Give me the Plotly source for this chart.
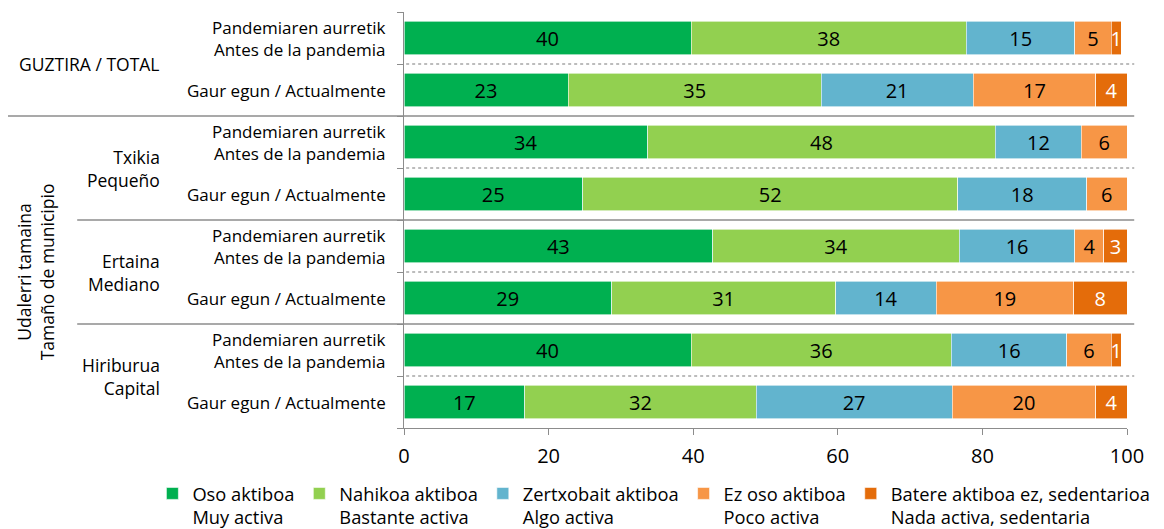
import plotly.graph_objects as go

# ---- data (top row first) ----
row_labels = [
    "Pandemiaren aurretik<br>Antes de la pandemia", "Gaur egun / Actualmente",
    "Pandemiaren aurretik<br>Antes de la pandemia", "Gaur egun / Actualmente",
    "Pandemiaren aurretik<br>Antes de la pandemia", "Gaur egun / Actualmente",
    "Pandemiaren aurretik<br>Antes de la pandemia", "Gaur egun / Actualmente",
]
group_labels = ["GUZTIRA / TOTAL", "Txikia<br>Pequeño", "Ertaina<br>Mediano", "Hiriburua<br>Capital"]
side_title = "Udalerri tamaina<br>Tamaño de municipio"

series_names = [
    "Oso aktiboa<br>Muy activa",
    "Nahikoa aktiboa<br>Bastante activa",
    "Zertxobait aktiboa<br>Algo activa",
    "Ez oso aktiboa<br>Poco activa",
    "Batere aktiboa ez, sedentarioa<br>Nada activa, sedentaria",
]
oso = [39.7, 22.7, 33.7, 24.7, 42.7, 28.7, 39.7, 16.7]
nahikoa = [38.1, 35.0, 48.1, 51.9, 34.1, 31.0, 36.0, 32.0]
zertxobait = [15.0, 21.0, 11.9, 17.8, 16.0, 13.9, 16.0, 27.1]
ez_oso = [5.0, 17.0, 6.3, 5.6, 4.0, 19.0, 6.1, 19.9]
batere = [1.4, 4.3, 0.0, 0.0, 3.2, 7.4, 1.4, 4.3]

oso_lbl = ["40", "23", "34", "25", "43", "29", "40", "17"]
nahikoa_lbl = ["38", "35", "48", "52", "34", "31", "36", "32"]
zertxobait_lbl = ["15", "21", "12", "18", "16", "14", "16", "27"]
ez_oso_lbl = ["5", "17", "6", "6", "4", "19", "6", "20"]
batere_lbl = ["1", "4", "", "", "3", "8", "1", "4"]

x_ticks = [0, 20, 40, 60, 80, 100]

colors = ["#00B050", "#92D050", "#62B4CE", "#F79646", "#E46C0A"]
text_colors = ["black", "black", "black", "black", "white"]

FONT = "Open Sans"
rows = list(range(len(row_labels)))

fig = go.Figure()
for name, vals, lbls, col, tcol in zip(
    series_names,
    [oso, nahikoa, zertxobait, ez_oso, batere],
    [oso_lbl, nahikoa_lbl, zertxobait_lbl, ez_oso_lbl, batere_lbl],
    colors, text_colors,
):
    fig.add_trace(go.Bar(
        y=rows, x=vals, orientation="h", name=name,
        marker=dict(color=col, line=dict(color="white", width=0.6)),
        text=lbls, textposition="inside", insidetextanchor="middle",
        textangle=0, constraintext="none",
        textfont=dict(family=FONT, size=20, color=tcol),
        width=0.64, hoverinfo="skip",
    ))

fig.update_layout(
    barmode="stack",
    width=1164, height=541,
    margin=dict(l=396, r=45, t=4, b=121),
    plot_bgcolor="white", paper_bgcolor="white",
    font=dict(family=FONT, size=17, color="black"),
    showlegend=True,
    legend=dict(
        orientation="h", x=-0.348, xanchor="left", y=-0.113, yanchor="top",
        valign="top", font=dict(family=FONT, size=18.3, color="black"),
        traceorder="normal", itemwidth=30, tracegroupgap=0,
    ),
    uniformtext=dict(mode=False),
)

fig.update_xaxes(
    range=[0, 100], tickvals=x_ticks, ticktext=[str(v) for v in x_ticks],
    showgrid=False, zeroline=False,
    showline=True, linecolor="#8C8C8C", linewidth=1.3,
    ticks="outside", ticklen=6, tickcolor="#8C8C8C", ticklabelstandoff=4,
    tickfont=dict(family=FONT, size=20, color="black"),
)
fig.update_yaxes(
    range=[7.5, -0.5], showgrid=False, zeroline=False,
    showline=True, linecolor="#8C8C8C", linewidth=1.3,
    tickvals=rows, ticktext=["" for _ in rows], ticks="",
    minor=dict(tickvals=[r - 0.5 for r in rows] + [7.5], ticks="outside",
               ticklen=6, tickcolor="#8C8C8C", showgrid=False),
)

# row labels
for r, lab in zip(rows, row_labels):
    fig.add_annotation(x=-0.022, xref="paper", y=r, yref="y", text=lab,
                       showarrow=False, xanchor="right", yanchor="middle",
                       align="right", font=dict(family=FONT, size=17))

# group labels
group_centers = [0.5, 2.5, 4.5, 6.5]
for gc, lab in zip(group_centers, group_labels):
    fig.add_annotation(x=-0.335, xref="paper", y=gc, yref="y", text=lab,
                       showarrow=False, xanchor="right", yanchor="middle",
                       align="right", font=dict(family=FONT, size=17.5))

fig.add_annotation(x=-0.51, xref="paper", y=4.5, yref="y", text=side_title,
                   showarrow=False, textangle=-90, xanchor="center", yanchor="middle",
                   align="center", font=dict(family=FONT, size=17.5))

# separators
for yy in [0.5, 2.5, 4.5, 6.5]:
    fig.add_shape(type="line", xref="paper", yref="y", x0=0.003, x1=1.01, y0=yy, y1=yy,
                  line=dict(color="#A6A6A6", width=1.3, dash="dot"))
for yy, x0 in [(1.5, -0.548), (3.5, -0.452), (5.5, -0.452)]:
    fig.add_shape(type="line", xref="paper", yref="y", x0=x0, x1=1.01, y0=yy, y1=yy,
                  line=dict(color="#8C8C8C", width=1.3))

fig.write_html("out.html")
